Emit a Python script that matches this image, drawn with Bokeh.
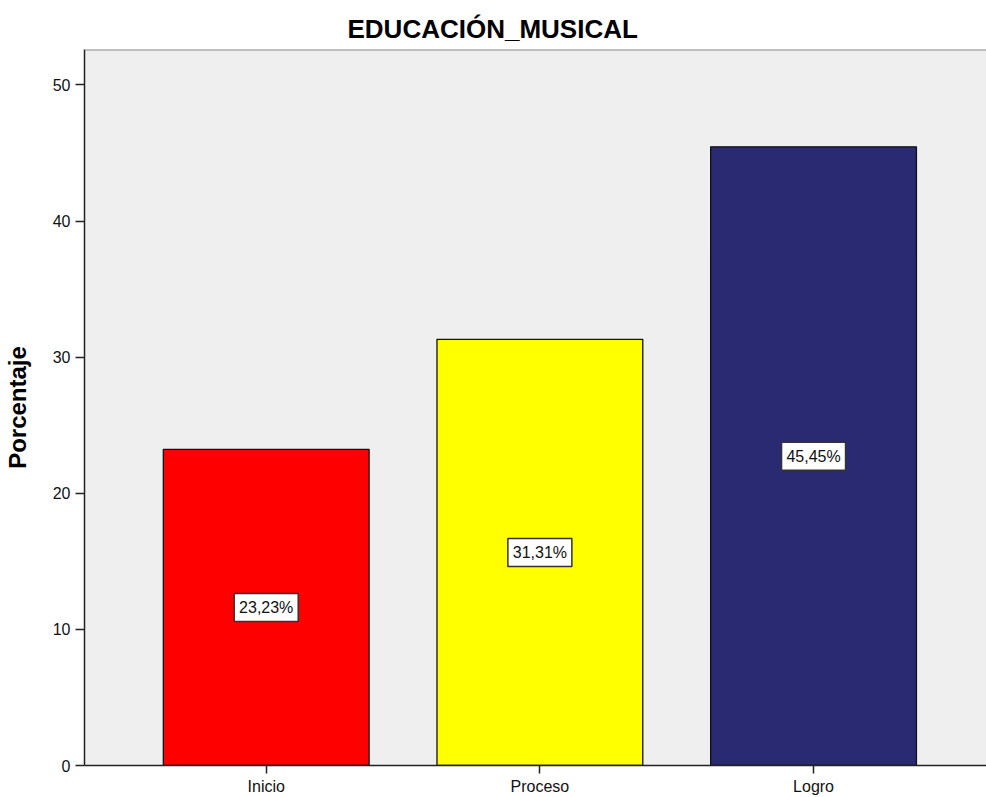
from bokeh.plotting import figure
from bokeh.models import Range1d, FixedTicker, Span, ColumnDataSource
from bokeh.embed import file_html
from bokeh.resources import INLINE
from bokeh.core.properties import value

categories = ["Inicio", "Proceso", "Logro"]
percentages = [23.23, 31.31, 45.45]
bar_colors = ["#FF0000", "#FFFF00", "#292A72"]
y_ticks = [0, 10, 20, 30, 40, 50]
title_text = "EDUCACIÓN_MUSICAL"
y_label = "Porcentaje"

FONT = "Liberation Sans"
Y_TOP = 52.6

xpos = list(range(len(categories)))
labels = [f"{v:.2f}%".replace(".", ",") for v in percentages]
mids = [v / 2 for v in percentages]

src = ColumnDataSource(dict(x=xpos, top=percentages, color=bar_colors, mid=mids, label=labels))

p = figure(width=986, height=797, output_backend="svg", toolbar_location=None,
           x_range=Range1d(-0.664, 2.632), y_range=Range1d(0, Y_TOP),
           min_border_left=83, min_border_right=0, min_border_top=49, min_border_bottom=31)

p.background_fill_color = "#EFEFEF"
p.border_fill_color = "white"
p.outline_line_color = None
p.xgrid.visible = False
p.ygrid.visible = False

p.vbar(x="x", top="top", bottom=0, width=0.752, fill_color="color", line_color="#111111",
       line_width=1.3, source=src)

p.rect(x="x", y="mid", width=64, height=28, width_units="screen", height_units="screen",
       fill_color="white", line_color="#333333", line_width=1.5, source=src)
p.text(x="x", y="mid", text="label", text_align="center", text_baseline="middle",
       text_font=value(FONT), text_font_size="16px", text_color="#111111", source=src)

p.add_layout(Span(location=Y_TOP, dimension="width", line_color="#8c8c8c", line_width=2))

# title
p.title.text = title_text
p.title.align = "left"
p.title.offset = 263
p.title.text_font = FONT
p.title.text_font_size = "26px"
p.title.text_font_style = "bold"
p.title.text_color = "black"
p.title.standoff = 11

# x axis
p.xaxis.ticker = FixedTicker(ticks=xpos)
p.xaxis.major_label_overrides = {i: c for i, c in enumerate(categories)}
p.xaxis.axis_line_color = "#222222"
p.xaxis.axis_line_width = 1.5
p.xaxis.major_tick_out = 8
p.xaxis.major_tick_in = 0
p.xaxis.major_tick_line_color = "#222222"
p.xaxis.major_tick_line_width = 1.5
p.xaxis.minor_tick_line_color = None
p.xaxis.major_label_standoff = 4
p.xaxis.major_label_text_font = FONT
p.xaxis.major_label_text_font_size = "16px"
p.xaxis.major_label_text_color = "#111111"

# y axis
p.yaxis.ticker = FixedTicker(ticks=y_ticks)
p.yaxis.axis_label = y_label
p.yaxis.axis_label_text_font = FONT
p.yaxis.axis_label_text_font_size = "24px"
p.yaxis.axis_label_text_font_style = "bold"
p.yaxis.axis_label_text_color = "black"
p.yaxis.axis_label_standoff = 19
p.yaxis.axis_line_color = "#222222"
p.yaxis.axis_line_width = 1.5
p.yaxis.major_tick_out = 9
p.yaxis.major_tick_in = 0
p.yaxis.major_tick_line_color = "#222222"
p.yaxis.major_tick_line_width = 1.5
p.yaxis.minor_tick_line_color = None
p.yaxis.major_label_standoff = 5
p.yaxis.major_label_text_font = FONT
p.yaxis.major_label_text_font_size = "16px"
p.yaxis.major_label_text_color = "#111111"

open("out.html", "w").write(file_html(p, INLINE))
